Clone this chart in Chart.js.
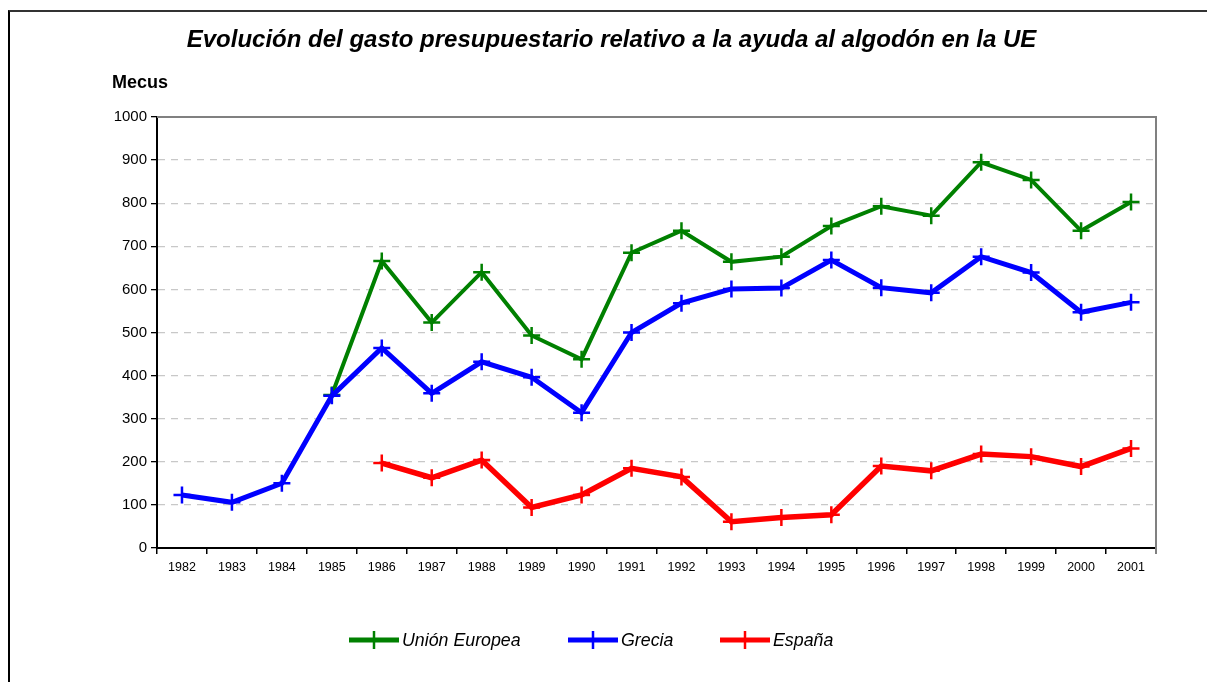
<!DOCTYPE html>
<html><head><meta charset="utf-8">
<script src="https://cdn.jsdelivr.net/npm/chart.js@4/dist/chart.umd.min.js"></script>
<style>
html,body{margin:0;padding:0;background:#fff;}
#wrap{position:relative;width:1207px;height:682px;overflow:hidden;font-family:"Liberation Sans",Arial,sans-serif;}
#frame{position:absolute;left:8px;top:10px;width:1300px;height:700px;border-left:2px solid #000;border-top:2px solid #333;box-sizing:border-box;}
#title{position:absolute;left:0;width:1223px;top:25px;text-align:center;font-weight:bold;font-style:italic;font-size:24px;color:#000;}
#unit{position:absolute;left:112px;top:72px;font-weight:bold;font-size:18px;color:#000;}
#legend{position:absolute;top:627px;left:0;width:1207px;height:26px;}
.li{position:absolute;top:0;display:flex;align-items:center;font-style:italic;font-size:17.8px;color:#000;height:26px;}
.li svg{margin-right:3px;}
canvas{position:absolute;left:0;top:0;}
</style></head>
<body><div id="wrap">
<div id="frame"></div>
<canvas id="c" width="1207" height="682"></canvas>
<div id="title">Evolución del gasto presupuestario relativo a la ayuda al algodón en la UE</div>
<div id="unit">Mecus</div>
<div id="legend"></div>
</div>
<script>
const years = ["1982","1983","1984","1985","1986","1987","1988","1989","1990","1991","1992","1993","1994","1995","1996","1997","1998","1999","2000","2001"];
const unionEuropea = [null,null,null,355,666,523,640,493,438,685,736,664,676,747,793,771,895,854,736,803];
const grecia = [123,106,150,353,464,359,432,396,314,500,568,601,603,668,604,592,676,639,547,570];
const espana = [null,null,null,null,197,163,204,94,123,185,165,61,71,77,190,179,218,212,189,231];
const seriesNames = ["Unión Europea","Grecia","España"];
const seriesColors = ["#008000","#0000ff","#ff0000"];
const yTicks = [0,100,200,300,400,500,600,700,800,900,1000];

const FONT = "'Liberation Sans', Arial, sans-serif";

const framePlugin = {
  id:'frameLines',
  beforeDatasetsDraw(chart){
    const {ctx, chartArea:a} = chart;
    ctx.save();
    ctx.strokeStyle = '#808080';
    ctx.lineWidth = 2;
    ctx.beginPath();
    ctx.moveTo(a.left, a.top); ctx.lineTo(a.right, a.top); ctx.lineTo(a.right, a.bottom+6);
    ctx.stroke();
    ctx.restore();
  }
};

const chart = new Chart(document.getElementById('c'), {
  type:'line',
  data:{
    labels: years,
    datasets:[
      {label:seriesNames[0], data:unionEuropea, borderColor:seriesColors[0], backgroundColor:seriesColors[0], borderWidth:4, pointStyle:'cross', pointRadius:8.5, pointBorderWidth:2.5, pointBorderColor:seriesColors[0], order:1, spanGaps:false, tension:0},
      {label:seriesNames[1], data:grecia, borderColor:seriesColors[1], backgroundColor:seriesColors[1], borderWidth:5, pointStyle:'cross', pointRadius:8.5, pointBorderWidth:2.5, pointBorderColor:seriesColors[1], order:0, tension:0},
      {label:seriesNames[2], data:espana, borderColor:seriesColors[2], backgroundColor:seriesColors[2], borderWidth:5.5, pointStyle:'cross', pointRadius:8.5, pointBorderWidth:2.5, pointBorderColor:seriesColors[2], order:2, tension:0}
    ]
  },
  options:{
    responsive:false,
    animation:false,
    events:[],
    layout:{padding:{left:0,right:51,top:117,bottom:104}},
    plugins:{legend:{display:false},title:{display:false},tooltip:{enabled:false}},
    scales:{
      x:{
        type:'category',
        offset:true,
        grid:{offset:true, drawOnChartArea:false, color:'#000', tickLength:6, tickColor:'#000', lineWidth:1.5},
        border:{display:true,color:'#000',width:2},
        ticks:{font:{family:FONT,size:12.5},color:'#000',padding:6,maxRotation:0,autoSkip:false},
        afterFit(s){ s.height = 30; }
      },
      y:{
        min:0,max:1000,
        afterBuildTicks(s){ s.ticks = yTicks.map(v=>({value:v})); },
        grid:{
          color:(ctx)=> (ctx.tick && (ctx.tick.value===0||ctx.tick.value===1000)) ? 'rgba(0,0,0,0)' : '#c8c8c8',
          tickColor:'#000', tickLength:6, lineWidth:1.3, tickBorderDash:[]
        },
        border:{display:true,color:'#000',width:2,dash:[7,6]},
        ticks:{font:{family:FONT,size:15},color:'#000',padding:4,callback:(v)=>String(v)},
        afterFit(s){ s.width = 157; }
      }
    }
  },
  plugins:[framePlugin]
});

// HTML legend built from the chart's datasets
const legendPos = [349, 568, 720];
const leg = document.getElementById('legend');
chart.data.datasets.forEach((ds,i)=>{
  const d = document.createElement('div');
  d.className='li';
  d.style.left = legendPos[i]+'px';
  d.innerHTML = `<svg width="50" height="22"><line x1="0" y1="11" x2="50" y2="11" stroke="${ds.borderColor}" stroke-width="5"/><line x1="25" y1="2" x2="25" y2="20" stroke="${ds.borderColor}" stroke-width="2.5"/></svg>`;
  const sp = document.createElement('span'); sp.textContent = ds.label; d.appendChild(sp);
  leg.appendChild(d);
});
</script>
</body></html>
